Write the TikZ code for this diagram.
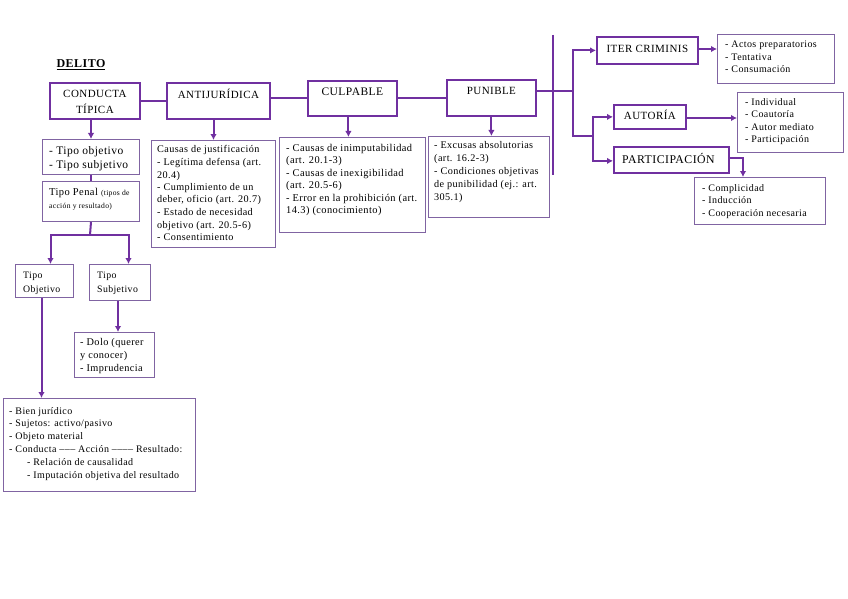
\documentclass[tikz,border=0pt]{standalone}
\usepackage{fontspec}
\setmainfont{Liberation Serif}[LetterSpace=4]
\usetikzlibrary{arrows.meta}
\definecolor{purp}{HTML}{7030A0}
\definecolor{lpurp}{HTML}{8064A2}
\newcommand\tabL[1]{\begin{tabular}[t]{@{}l@{}}#1\end{tabular}}
\newcommand\tabC[1]{\begin{tabular}[t]{@{}c@{}}#1\end{tabular}}
\tikzset{
  mainbox/.style={draw=purp, line width=1.8pt, rectangle, inner sep=0pt, anchor=north west},
  lstbox/.style={draw=lpurp, line width=1pt, rectangle, inner sep=0pt, anchor=north west},
  ttl/.style={inner sep=0pt, anchor=base, font=\fontsize{11}{16}\selectfont},
  lsttxt/.style={inner sep=0pt, anchor=base west},
  conn/.style={draw=purp, line width=2pt},
  arr/.style={conn, -{Latex[length=6pt,width=6.5pt]}}
}
\begin{document}
\begin{tikzpicture}[x=1pt,y=-1pt]
\fill[white] (0,0) rectangle (848,599);
\useasboundingbox (0,0) rectangle (848,599);

% title
\node[inner sep=0pt, anchor=base, font=\bfseries\fontsize{12}{14}\selectfont] (del) at (81,68) {\underline{DELITO}};

% main boxes
\node[mainbox, minimum width=90pt, minimum height=36pt] (ct) at (49,82) {};
\node[ttl] (ctT) at ([yshift=-16pt]ct.north) {\tabC{CONDUCTA\\TÍPICA}};
\node[mainbox, minimum width=103pt, minimum height=36pt] (aj) at (166,82) {};
\node[ttl] (ajT) at ([yshift=-17pt]aj.north) {ANTIJURÍDICA};
\node[mainbox, minimum width=89pt, minimum height=35pt] (cu) at (307,80) {};
\node[ttl, font=\fontsize{11.5}{16}\selectfont] (cuT) at ([yshift=-16pt]cu.north) {CULPABLE};
\node[mainbox, minimum width=89pt, minimum height=36pt] (pu) at (446,79) {};
\node[ttl] (puT) at ([yshift=-16pt]pu.north) {PUNIBLE};
\node[mainbox, minimum width=101pt, minimum height=27pt] (ic) at (596,36) {};
\node[ttl] (icT) at ([yshift=-17pt]ic.north) {ITER CRIMINIS};
\node[mainbox, minimum width=72pt, minimum height=24pt] (au) at (613,104) {};
\node[ttl] (auT) at ([yshift=-16pt]au.north) {AUTORÍA};
\node[mainbox, minimum width=115pt, minimum height=26pt] (pa) at (613,146) {};
\node[ttl, font=\fontsize{11.8}{16}\selectfont] (paT) at ([xshift=-3pt,yshift=-17pt]pa.north) {PARTICIPACIÓN};

% list boxes
\node[lstbox, minimum width=97pt, minimum height=35pt] (tl) at (42,139) {};
\node[lsttxt, font=\fontsize{11.5}{14.5}\selectfont] (tlT) at ([xshift=7pt,yshift=-15pt]tl.north west) {\tabL{- Tipo objetivo\\- Tipo subjetivo}};

\node[lstbox, minimum width=97pt, minimum height=40pt] (tp) at (42,181) {};
\node[lsttxt, font=\fontsize{10.5}{13}\selectfont] (tpT) at ([xshift=7pt,yshift=-14pt]tp.north west) {\tabL{Tipo Penal {\fontsize{7.6}{13}\selectfont (tipos de}\\{\fontsize{7.6}{13}\selectfont acción y resultado)}}};

\node[lstbox, minimum width=58pt, minimum height=33pt] (to) at (15,264) {};
\node[lsttxt, font=\fontsize{9.8}{14}\selectfont] (toT) at ([xshift=8pt,yshift=-14pt]to.north west) {\tabL{Tipo\\Objetivo}};

\node[lstbox, minimum width=61pt, minimum height=36pt] (ts) at (89,264) {};
\node[lsttxt, font=\fontsize{9.8}{14}\selectfont] (tsT) at ([xshift=8pt,yshift=-14pt]ts.north west) {\tabL{Tipo\\Subjetivo}};

\node[lstbox, minimum width=80pt, minimum height=45pt] (dl) at (74,332) {};
\node[lsttxt, font=\fontsize{10.3}{13}\selectfont] (dlT) at ([xshift=6pt,yshift=-13pt]dl.north west) {\tabL{- Dolo (querer\\y conocer)\\- Imprudencia}};

\node[lstbox, minimum width=192pt, minimum height=93pt] (bj) at (3,398) {};
\node[lsttxt, font=\fontsize{10}{12.8}\selectfont] (bjT) at ([xshift=6pt,yshift=-16pt]bj.north west) {\tabL{- Bien jurídico\\- Sujetos: activo/pasivo\\- Objeto material\\- Conducta ––– Acción –––– Resultado:\\\hspace*{18pt}- Relación de causalidad\\\hspace*{18pt}- Imputación objetiva del resultado}};

\node[lstbox, minimum width=124pt, minimum height=107pt] (ajl) at (151,140) {};
\node[lsttxt, font=\fontsize{10.2}{12.5}\selectfont] (ajlT) at ([xshift=6pt,yshift=-13pt]ajl.north west) {\tabL{Causas de justificación\\- Legítima defensa (art.\\20.4)\\- Cumplimiento de un\\deber, oficio (art. 20.7)\\- Estado de necesidad\\objetivo (art. 20.5-6)\\- Consentimiento}};

\node[lstbox, minimum width=146pt, minimum height=95pt] (cul) at (279,137) {};
\node[lsttxt, font=\fontsize{10.4}{12.5}\selectfont] (culT) at ([xshift=7pt,yshift=-14pt]cul.north west) {\tabL{- Causas de inimputabilidad\\(art. 20.1-3)\\- Causas de inexigibilidad\\(art. 20.5-6)\\- Error en la prohibición (art.\\14.3) (conocimiento)}};

\node[lstbox, minimum width=121pt, minimum height=81pt] (pul) at (428,136) {};
\node[lsttxt, font=\fontsize{10.2}{13}\selectfont] (pulT) at ([xshift=6pt,yshift=-12.5pt]pul.north west) {\tabL{- Excusas absolutorias\\(art. 16.2-3)\\- Condiciones objetivas\\de punibilidad (ej.: art.\\305.1)}};

\node[lstbox, minimum width=117pt, minimum height=49pt] (icl) at (717,34) {};
\node[lsttxt, font=\fontsize{10}{12.5}\selectfont] (iclT) at ([xshift=8pt,yshift=-14pt]icl.north west) {\tabL{- Actos preparatorios\\- Tentativa\\- Consumación}};

\node[lstbox, minimum width=106pt, minimum height=60pt] (aul) at (737,92) {};
\node[lsttxt, font=\fontsize{10}{12.5}\selectfont] (aulT) at ([xshift=8pt,yshift=-13.5pt]aul.north west) {\tabL{- Individual\\- Coautoría\\- Autor mediato\\- Participación}};

\node[lstbox, minimum width=131pt, minimum height=47pt] (pal) at (694,177) {};
\node[lsttxt, font=\fontsize{10}{12.5}\selectfont] (palT) at ([xshift=8pt,yshift=-14pt]pal.north west) {\tabL{- Complicidad\\- Inducción\\- Cooperación necesaria}};

% connectors top row
\draw[conn] (ct.east |- aj.west) -- (aj.west);
\draw[conn] (aj.east |- 0,98) -- (cu.west |- 0,98);
\draw[conn] (cu.east |- 0,98) -- (pu.west |- 0,98);
\coordinate (vt) at (553,35);
\coordinate (vb) at (553,175);
\coordinate (j1) at (553,91);
\coordinate (b1) at (573,91);
\coordinate (b2) at (573,136);
\coordinate (b3) at (593,136);
\draw[conn] (pu.east |- j1) -- (j1);
\draw[conn] (vt) -- (vb);
\draw[conn] (j1) -- (b1);
\draw[arr] (b1) |- (ic.west);
\draw[conn] (b1) -- (b2) -- (b3);
\draw[arr] (b3) |- (au.west);
\draw[arr] (b3) |- ([yshift=-1pt]pa.west);
\draw[arr] (ic.east |- 0,49) -- (icl.west |- 0,49);
\draw[arr] (au.east |- 0,118) -- (aul.west |- 0,118);
\draw[arr] (pa.east |- 0,158) -| ([xshift=-17pt]pal.north);

% down arrows
\draw[arr] (ajl.north |- aj.south) -- (ajl.north);
\draw[arr] ([xshift=-4pt]cu.south) -- ([xshift=-4pt]cu.south |- cul.north);
\draw[arr] (pu.south) -- (pu.south |- pul.north);
\draw[arr] (tl.north |- ct.south) -- (tl.north);
\draw[conn] (tl.south) -- (tp.north);
\coordinate (sp) at (90,235);
\draw[conn] (tp.south) -- (sp);
\draw[arr] (sp) -| ([xshift=6pt]to.north);
\draw[arr] (sp) -| ([xshift=8.5pt]ts.north);
\draw[arr] ([xshift=-2pt]ts.south) -- ([xshift=-2pt]ts.south |- dl.north);
\draw[arr] ([xshift=-3pt]to.south) -- ([xshift=-3pt]to.south |- bj.north);
\end{tikzpicture}
\end{document}
